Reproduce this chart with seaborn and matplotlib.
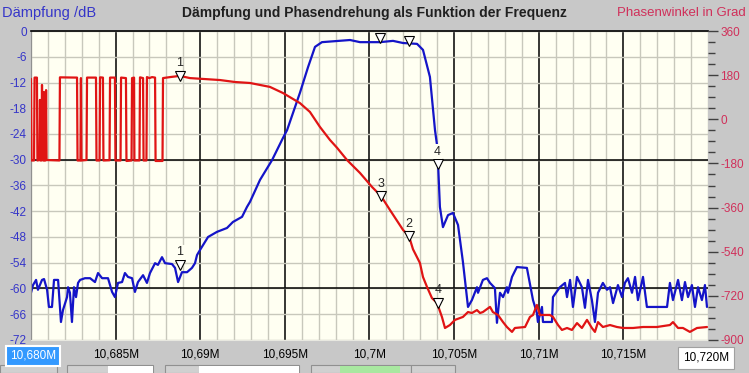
import numpy as np
import pandas as pd
import matplotlib
matplotlib.use("Agg")
import matplotlib.pyplot as plt
from matplotlib.patches import Rectangle
from matplotlib.ticker import MultipleLocator, FixedLocator
import seaborn as sns

f0 = 10.680  # MHz, linker Rand des Sweeps

# Daempfung (blau): Frequenz-Offset in kHz ab 10,680 MHz, Wert in dB
blue_khz = [0.00, 0.12, 0.30, 0.41, 0.65, 0.77, 0.95, 1.06, 1.24, 1.36, 1.60, 1.77, 1.89, 2.13, 2.19,
            2.30, 2.42, 2.54, 2.66, 2.78, 2.90, 3.19, 3.49, 3.78, 3.96, 4.20, 4.55, 4.79, 4.96, 5.14,
            5.38, 5.55, 5.73, 5.97, 6.14, 6.32, 6.62, 6.85, 7.03, 7.33, 7.50, 7.74, 7.92, 8.33, 8.51,
            8.69, 8.92, 9.22, 9.51, 9.69, 9.81, 9.99, 10.46, 10.99, 11.58, 11.93, 12.47, 12.76, 12.94,
            13.53, 14.24, 14.89, 15.13, 15.89, 16.37, 16.78, 17.19, 18.85, 19.44, 20.62, 21.39, 21.98,
            22.81, 23.16, 23.57, 23.87, 23.99, 24.05, 24.16, 24.34, 24.64, 24.93, 25.23, 25.52, 25.82,
            26.05, 26.35, 26.41, 26.70, 26.94, 27.12, 27.41, 27.53, 27.71, 27.89, 28.12, 28.18, 28.42,
            28.71, 29.30, 29.66, 29.89, 29.95, 30.19, 30.25, 30.78, 30.84, 31.25, 31.55, 31.67, 31.85,
            32.02, 32.26, 32.55, 32.73, 32.91, 33.14, 33.32, 33.50, 33.79, 34.03, 34.21, 34.39, 34.68,
            34.92, 35.09, 35.27, 35.51, 35.69, 35.86, 36.16, 36.39, 37.58, 37.75, 37.93, 38.23, 38.46,
            38.64, 38.82, 39.05, 39.23, 39.41, 39.64, 39.82, 39.94]
blue_db = [-61.0, -59.2, -58.0, -60.3, -58.0, -57.8, -60.3, -64.3, -64.3, -58.0, -58.0, -67.8, -65.0, -62.0, -59.7,
           -61.0, -67.8, -59.7, -62.0, -58.7, -58.0, -57.6, -57.6, -58.5, -56.4, -57.6, -57.6, -60.8, -62.0, -58.7,
           -58.5, -56.4, -57.3, -57.6, -60.8, -58.5, -56.9, -58.7, -56.4, -54.1, -54.5, -52.7, -54.1, -54.3, -55.2,
           -58.5, -56.2, -56.2, -55.2, -54.1, -52.2, -51.0, -48.0, -46.8, -45.9, -44.5, -43.3, -41.0, -39.8,
           -34.7, -30.1, -24.9, -23.1, -14.4, -8.4, -3.7, -2.6, -2.1, -2.6, -2.6, -2.3, -2.8,
           -3.0, -4.4, -10.7, -23.1, -26.6, -30.8, -41.0, -45.7, -42.9, -42.4, -45.2, -53.8, -64.3,
           -62.7, -59.7, -61.0, -58.0, -57.6, -58.7, -59.9, -68.0, -61.0, -62.0, -59.7, -61.0, -57.3,
           -55.0, -55.2, -62.7, -65.7, -67.8, -64.3, -67.8, -67.8, -62.0, -59.7, -58.7, -62.0, -58.0,
           -64.3, -57.3, -59.7, -64.5, -58.0, -62.7, -67.8, -61.0, -58.7, -60.3, -59.7, -63.4, -59.2,
           -62.0, -58.7, -57.6, -61.0, -57.3, -62.7, -57.3, -64.3, -64.3, -58.7, -62.7, -58.0, -62.7,
           -58.5, -62.0, -59.2, -64.3, -59.7, -62.7, -59.2, -64.3]

# Phasenwinkel (rot): Offset in kHz, Winkel in Grad
red_khz = [0.00, 0.03, 0.18, 0.21, 0.35, 0.38, 0.50, 0.53, 0.56, 0.62, 0.65, 0.68, 0.74, 0.77, 0.80,
           0.86, 0.89, 0.92, 1.68, 1.71, 2.72, 2.75, 2.92, 2.95, 2.98, 3.28, 3.31, 3.84, 3.87, 4.05,
           4.08, 4.25, 4.28, 4.64, 4.67, 4.96, 4.99, 5.29, 5.32, 5.61, 5.64, 5.94, 5.97, 6.09, 6.11,
           6.41, 6.44, 6.62, 6.65, 6.82, 6.85, 7.00, 7.15, 7.33, 7.36, 7.77, 7.80,
           8.21, 8.80, 9.39, 10.28, 11.17, 12.05, 12.94, 14.12, 14.89, 15.89, 16.48, 17.07, 17.66,
           18.08, 18.67, 19.44, 20.15, 20.68, 21.21, 21.68, 21.98, 22.33, 22.57, 22.98, 23.16, 23.40,
           23.69, 23.99, 24.28, 24.46, 24.75, 25.05, 25.52, 25.82, 26.05, 26.35, 26.53, 26.70, 27.12,
           27.29, 27.59, 27.89, 28.12, 28.42, 28.59, 29.19, 29.48, 29.66, 29.89, 30.07, 30.66, 30.84,
           31.14, 31.37, 31.67, 31.96, 32.26, 32.55, 32.85, 33.14, 33.32, 33.50, 33.79, 34.21, 34.62,
           34.98, 35.57, 36.16, 36.98, 37.75, 37.93, 38.23, 38.52, 38.93, 39.35, 39.94]
red_deg = [165, -168, -168, 170, 170, -168, -166, 79, -168, -168, 140, -166, -168, 111, -168,
           -168, 119, -166, -168, 171, 170, -168, -168, 168, -168, -166, 170, 170, -168, -168,
           171, 170, -168, -167, 170, 170, -168, -168, 170, 168, -170, -168, 168, 170, -168,
           -168, 171, 168, -168, -168, 172, 168, 172, 170, -170, -170, 168,
           172, 177, 168, 164, 160, 152, 148, 132, 107, 66, 30, -31, -84,
           -116, -166, -219, -276, -313, -370, -419, -451, -476, -530, -586, -643, -684,
           -729, -749, -806, -851, -839, -818, -806, -786, -790, -778, -790, -786, -765,
           -786, -798, -827, -847, -867, -851, -847, -806, -798, -757, -798, -798, -806,
           -839, -859, -851, -859, -831, -851, -818, -851, -867, -827, -847, -839, -847,
           -851, -851, -847, -847, -839, -827, -851, -851, -867, -851, -847]

# Marker
mark_blue_khz = [8.80, 20.62, 22.33, 24.02]
mark_blue_db = [-54.5, -1.6, -2.3, -31.0]
mark_blue_lbl = ["1", "", "", "4"]
mark_red_khz = [8.80, 22.33, 20.68, 24.05]
mark_red_deg = [177, -476, -313, -749]
mark_red_lbl = ["1", "2", "3", "4"]

xtick_mhz = [10.685, 10.69, 10.695, 10.7, 10.705, 10.71, 10.715]
xtick_lbl = ["10,685M", "10,69M", "10,695M", "10,7M", "10,705M", "10,71M", "10,715M"]
ytick_db = [0, -6, -12, -18, -24, -30, -36, -42, -48, -54, -60, -66, -72]
ytick_deg = [360, 180, 0, -180, -360, -540, -720, -900]

BLUE = "#1414c8"
RED = "#e01414"
BLUE_TXT = "#3535c8"
RED_TXT = "#d0305a"
GRID = "#c8c8bc"

sns.set_style("white")
plt.rcParams["font.family"] = ["Liberation Sans", "DejaVu Sans"]

W, H = 749, 373
fig = plt.figure(figsize=(W / 100, H / 100), dpi=100, facecolor="#c8c8c8")
ax = fig.add_axes([31 / W, 33 / H, 677 / W, 309 / H])
ax.set_facecolor("#fffff2")
ax2 = ax.twinx()

blue = pd.DataFrame({"f": f0 + np.array(blue_khz) / 1000, "db": blue_db})
red = pd.DataFrame({"f": f0 + np.array(red_khz) / 1000, "deg": red_deg})

sns.lineplot(data=blue, x="f", y="db", ax=ax, color=BLUE, lw=1.6, sort=False, estimator=None)
sns.lineplot(data=red, x="f", y="deg", ax=ax2, color=RED, lw=1.6, sort=False, estimator=None)

ax.set_xlim(f0, 10.720)
ax.set_ylim(-72, 0)
ax2.set_ylim(-900, 360)

# grid
ax.set_axisbelow(True)
ax.xaxis.set_major_locator(FixedLocator(xtick_mhz))
ax.set_xticklabels(xtick_lbl)
ax.xaxis.set_minor_locator(MultipleLocator(0.001))
ax.set_yticks(ytick_db)
ax.set_yticklabels([str(v) for v in ytick_db])
ax.grid(which="minor", axis="x", color=GRID, lw=1)
ax.grid(which="major", axis="y", color=GRID, lw=1)
ax.grid(which="major", axis="x", color="black", lw=1.1)
for yv in [-30, -60]:
    ax.axhline(yv, color="black", lw=1.1, zorder=1)

ax.tick_params(axis="both", which="both", length=0)
ax.tick_params(axis="y", labelcolor=BLUE_TXT, labelsize=8.5, pad=3)
ax.tick_params(axis="x", labelcolor="black", labelsize=8.5, pad=6)
ax.set_xlabel("")
ax.set_ylabel("")

ax2.set_yticks(ytick_deg)
ax2.set_yticklabels([str(v) for v in ytick_deg])
ax2.yaxis.set_minor_locator(MultipleLocator(45))
ax2.tick_params(axis="y", which="major", length=7, width=1, color="#404040", direction="out",
                labelcolor=RED_TXT, labelsize=8.5, pad=2)
ax2.tick_params(axis="y", which="minor", length=5, width=1, color="#404040", direction="out")
ax2.set_ylabel("")
ax2.grid(False)

for s in ax2.spines.values():
    s.set_visible(False)
ax.spines["top"].set_color("black")
ax.spines["top"].set_linewidth(1.2)
ax.spines["left"].set_color("#909090")
ax.spines["bottom"].set_color("#e8e8e0")
ax.spines["right"].set_visible(False)

# Marker mit Nummern
for k, v, t in zip(mark_blue_khz, mark_blue_db, mark_blue_lbl):
    x = f0 + k / 1000
    ax.plot(x, v, marker="v", ms=7, mfc="white", mec="black", mew=0.8, zorder=5)
    if t:
        ax.annotate(t, (x, v), xytext=(0, 9), textcoords="offset points", ha="center", va="center",
                    fontsize=9, zorder=6,
                    bbox=dict(boxstyle="square,pad=0.1", fc="#fffff2", ec="none"))
for k, v, t in zip(mark_red_khz, mark_red_deg, mark_red_lbl):
    x = f0 + k / 1000
    ax2.plot(x, v, marker="v", ms=7, mfc="white", mec="black", mew=0.8, zorder=5)
    ax2.annotate(t, (x, v), xytext=(0, 9), textcoords="offset points", ha="center", va="center",
                 fontsize=9, zorder=6)

# Beschriftung oben
fig.text(2 / W, 1 - 13 / H, "Dämpfung /dB", color=BLUE_TXT, fontsize=10.5, va="center", ha="left")
fig.text(374 / W, 1 - 13 / H, "Dämpfung und Phasendrehung als Funktion der Frequenz",
         fontsize=10, fontweight="bold", va="center", ha="center", color="#202020")
fig.text(746 / W, 1 - 13 / H, "Phasenwinkel in Grad", color=RED_TXT, fontsize=9.5, va="center", ha="right")

# Start-/Stoppfeld
fig.text(33 / W, 1 - 356 / H, "10,680M", color="white", fontsize=8.5, ha="center", va="center",
         bbox=dict(boxstyle="square,pad=0.3", fc="#3399ff", ec="white", lw=1.5))
fig.text(706 / W, 1 - 358 / H, "10,720M", color="black", fontsize=8.5, ha="center", va="center",
         bbox=dict(boxstyle="square,pad=0.45", fc="white", ec="#a0a0a0", lw=0.8))

# Bedienelemente unten (angeschnitten)
widgets = [(0, 57, None), (67, 153, (108, 153)), (165, 299, (199, 299)), (311, 411, None), (411, 455, None)]
for x0, x1, white in widgets:
    fig.patches.append(Rectangle((x0 / W, 0), (x1 - x0) / W, 8 / H, transform=fig.transFigure,
                                 fc="#d0d0d0", ec="#909090", lw=0.8))
    if white:
        fig.patches.append(Rectangle((white[0] / W, 0), (white[1] - white[0]) / W, 7 / H,
                                     transform=fig.transFigure, fc="white", ec="none"))
fig.patches.append(Rectangle((340 / W, 0), 60 / W, 7 / H, transform=fig.transFigure,
                             fc="#a8e8a0", ec="none"))

fig.savefig("out.png", dpi=100, facecolor=fig.get_facecolor())
